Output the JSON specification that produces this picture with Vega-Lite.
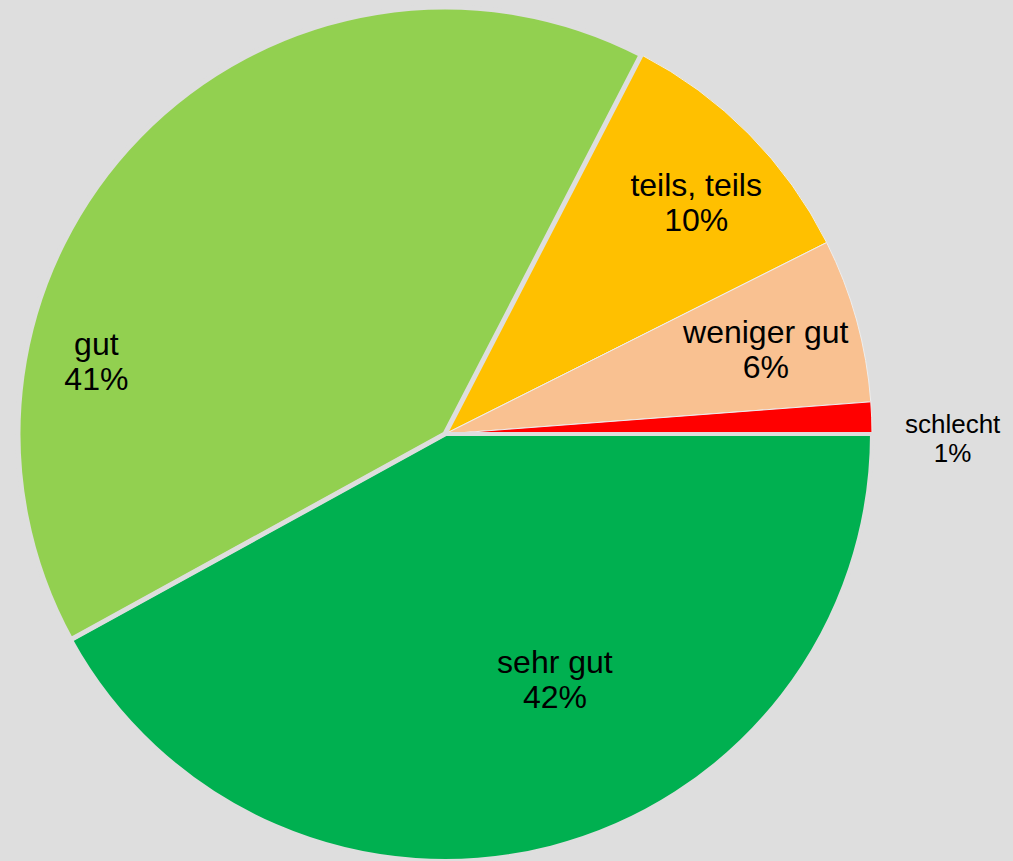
{
  "$schema": "https://vega.github.io/schema/vega-lite/v6.json",
  "autosize": {"type": "none"},
  "width": 890,
  "height": 854,
  "padding": {"left": 0, "top": 7, "right": 123, "bottom": 0},
  "background": "#dedede",
  "config": {"view": {"stroke": null}},
  "data": {
    "values": [
      {"category": "sehr gut", "value": 42.0, "pct": "42%", "rank": 1},
      {"category": "gut", "value": 40.6, "pct": "41%", "rank": 2},
      {"category": "teils, teils", "value": 10.0, "pct": "10%", "rank": 3},
      {"category": "weniger gut", "value": 6.2, "pct": "6%", "rank": 4},
      {"category": "schlecht", "value": 1.2, "pct": "1%", "rank": 5}
    ]
  },
  "transform": [
    {"calculate": "datum.category + '\\n' + datum.pct", "as": "label"}
  ],
  "encoding": {
    "theta": {"field": "value", "type": "quantitative", "stack": true, "scale": {"range": [1.5707963, 7.8539816]}},
    "order": {"field": "rank", "type": "quantitative", "sort": "ascending"}
  },
  "layer": [
    {
      "mark": {"type": "arc", "outerRadius": 427, "stroke": "#eeeeee", "strokeWidth": 1},
      "encoding": {
        "color": {
          "field": "category", "type": "nominal", "legend": null,
          "scale": {"domain": ["sehr gut", "gut", "teils, teils", "weniger gut", "schlecht"],
                    "range": ["#00b050", "#92d050", "#ffc000", "#f9c191", "#ff0000"]}
        }
      }
    },
    {
      "mark": {"type": "arc", "outerRadius": 427, "fillOpacity": 0, "stroke": "#dedede"},
      "encoding": {
        "strokeWidth": {
          "condition": [
            {"test": "datum.category === 'gut'", "value": 5},
            {"test": "datum.category === 'sehr gut'", "value": 4}
          ],
          "value": 0
        }
      }
    },
    {
      "mark": {"type": "text", "font": "Liberation Sans", "fontSize": 32, "lineBreak": "\n", "lineHeight": 35, "align": "center", "baseline": "middle", "color": "#000000", "radius": 249, "dx": 48, "dy": -12},
      "encoding": {
        "text": {"condition": {"test": "datum.category === 'sehr gut'", "field": "label"}, "value": ""}
      }
    },
    {
      "mark": {"type": "text", "font": "Liberation Sans", "fontSize": 32, "lineBreak": "\n", "lineHeight": 35, "align": "center", "baseline": "middle", "color": "#000000", "radius": 311, "dx": -126, "dy": 128},
      "encoding": {
        "text": {"condition": {"test": "datum.category === 'gut'", "field": "label"}, "value": ""}
      }
    },
    {
      "mark": {"type": "text", "font": "Liberation Sans", "fontSize": 32, "lineBreak": "\n", "lineHeight": 35, "align": "center", "baseline": "middle", "color": "#000000", "radius": 353},
      "encoding": {
        "text": {"condition": {"test": "datum.category === 'teils, teils'", "field": "label"}, "value": ""}
      }
    },
    {
      "mark": {"type": "text", "font": "Liberation Sans", "fontSize": 32, "lineBreak": "\n", "lineHeight": 35, "align": "center", "baseline": "middle", "color": "#000000", "radius": 337, "dx": -4, "dy": -11},
      "encoding": {
        "text": {"condition": {"test": "datum.category === 'weniger gut'", "field": "label"}, "value": ""}
      }
    },
    {
      "mark": {"type": "text", "font": "Liberation Sans", "fontSize": 26, "lineBreak": "\n", "lineHeight": 29, "align": "center", "baseline": "middle", "color": "#000000", "radius": 508, "dy": 10},
      "encoding": {
        "text": {"condition": {"test": "datum.category === 'schlecht'", "field": "label"}, "value": ""}
      }
    }
  ]
}
